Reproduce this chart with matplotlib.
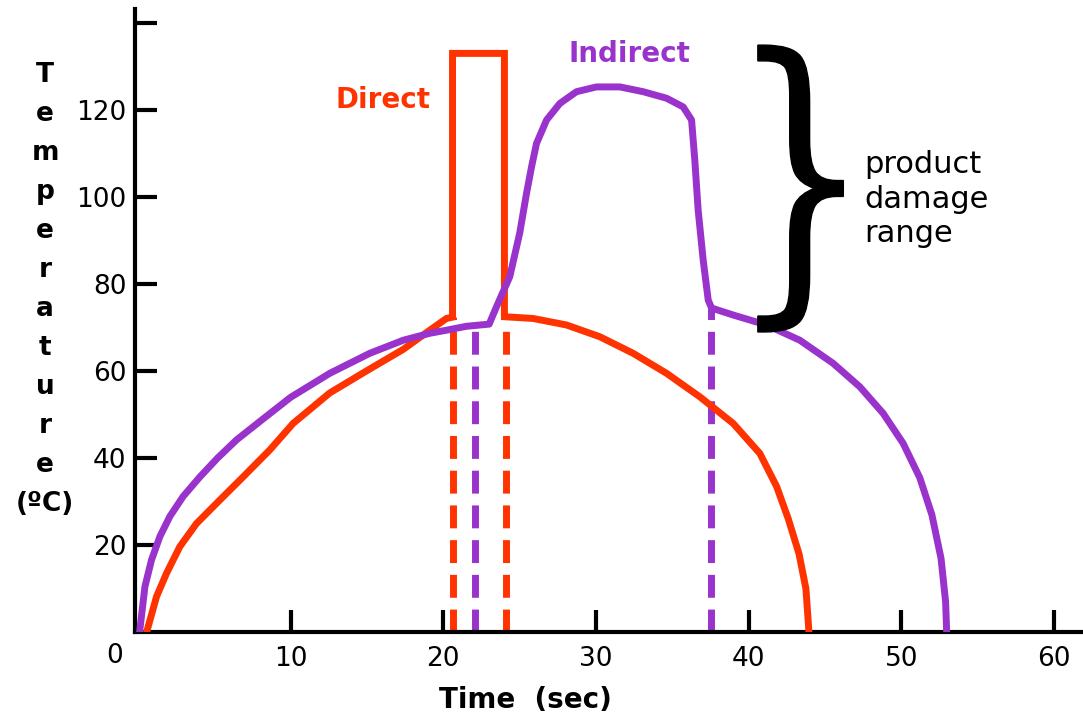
import matplotlib
matplotlib.use("Agg")
import matplotlib.pyplot as plt
from matplotlib.textpath import TextPath
from matplotlib.patches import PathPatch
from matplotlib.font_manager import FontProperties
from matplotlib.transforms import Affine2D

# data
direct_t = [0.56, 1.21, 1.87, 2.74, 3.83, 5.36, 6.88, 8.63, 10.16, 12.56, 15.18, 17.37,
            19.11, 20.2, 20.6,
            20.6, 24.0, 24.0,
            25.88, 28.07, 30.25, 32.43, 34.62, 36.8, 38.98, 40.73, 41.83, 42.6,
            43.3, 43.75, 43.95]
direct_T = [0, 8.2, 13.6, 19.7, 25.0, 30.4, 35.7, 41.9, 48.0, 55.0, 60.5, 65.0,
            69.4, 72.1, 72.4,
            133, 133, 72.5,
            72.1, 70.6, 67.9, 64.1, 59.5, 54.1, 48.0, 41.1, 33.5, 26.0,
            18.0, 10.0, 0]

indirect_t = [0.1, 0.45, 0.88, 1.43, 2.08, 2.95, 4.05, 5.2, 6.45, 8.0, 10.0, 12.56,
              15.18, 17.37, 19.11, 20.2, 21.5, 23.0, 23.48, 24.35, 25.0, 25.45, 25.78,
              26.1, 26.76, 27.63, 28.72, 30.03, 31.56, 33.09, 34.62, 35.71, 36.26,
              36.47, 36.69, 37.02, 37.35, 37.57, 38.98, 41.17, 43.35, 45.53, 47.28,
              48.81, 50.12, 51.21, 52.0, 52.6, 52.9, 52.97]
indirect_T = [0, 10.5, 16.6, 22.0, 26.6, 31.2, 35.7, 40.0, 44.2, 48.5, 54.0, 59.5,
              64.1, 67.1, 68.7, 69.4, 70.3, 70.8, 74.8, 81.7, 91.7, 100.9, 107.0,
              112.3, 117.7, 121.5, 124.2, 125.3, 125.3, 124.2, 122.7, 120.7, 117.7,
              108.5, 97.0, 85.5, 76.3, 74.5, 72.9, 70.6, 67.1, 61.8, 56.4,
              50.3, 43.4, 35.5, 27.0, 17.0, 7.0, 0]

# dashed drop lines (x, top)
direct_marks = [(20.6, 72.4), (24.1, 72.5)]
indirect_marks = [(22.1, 70.5), (37.5, 74.5)]

xticks = [10, 20, 30, 40, 50, 60]
yticks = [20, 40, 60, 80, 100, 120, 140]
ytick_labels = ["20", "40", "60", "80", "100", "120", ""]

red = "#FF3300"
purple = "#9933CC"

fig = plt.figure(figsize=(10.83, 7.15), dpi=100)
ax = fig.add_axes([135 / 1083, 82.7 / 715, 1 - 135 / 1083, 623.3 / 715])

ax.plot(direct_t, direct_T, color=red, lw=5, solid_joinstyle="miter", zorder=3)
ax.plot(indirect_t, indirect_T, color=purple, lw=5, solid_joinstyle="round", zorder=3)
for x, top in direct_marks:
    ax.plot([x, x], [0, top], color=red, lw=5, dashes=(3.3, 1.7), zorder=2)
for x, top in indirect_marks:
    ax.plot([x, x], [0, top], color=purple, lw=5, dashes=(3.3, 1.7), zorder=2)

ax.set_xlim(-0.2, 61.9)
ax.set_ylim(0, 143.2)
for s in ["top", "right"]:
    ax.spines[s].set_visible(False)
for s in ["left", "bottom"]:
    ax.spines[s].set_linewidth(3)
ax.set_xticks(xticks)
ax.set_yticks(yticks)
ax.set_yticklabels(ytick_labels)
ax.tick_params(direction="in", length=16, width=3, labelsize=19)
ax.tick_params(axis="x", pad=10)
ax.tick_params(axis="y", pad=6)
ax.text(-1.0, -2.5, "0", fontsize=19, ha="right", va="top")

ax.text(16.05, 122.3, "Direct", color=red, fontsize=20, fontweight="bold",
        ha="center", va="center")
ax.text(32.2, 132.9, "Indirect", color=purple, fontsize=20, fontweight="bold",
        ha="center", va="center")

# curly brace
tp = TextPath((0, 0), "}", size=1, prop=FontProperties(family="DejaVu Serif"))
ext = tp.get_extents()
bx0, bx1, by0, by1 = 40.6, 46.2, 69.0, 134.9
tr = (Affine2D().translate(-ext.x0, -ext.y0)
      .scale((bx1 - bx0) / ext.width, (by1 - by0) / ext.height)
      .translate(bx0, by0) + ax.transData)
ax.add_patch(PathPatch(tp, transform=tr, color="black", clip_on=False, zorder=5))
ax.text(47.6, 99.5, "product\ndamage\nrange", fontsize=22, ha="left", va="center",
        linespacing=1.25)

fig.text(525 / 1083, 1 - 700 / 715, "Time  (sec)", fontsize=20, fontweight="bold",
         ha="center", va="center")
for i, ch in enumerate(list("Temperature") + ["(ºC)"]):
    fig.text(45 / 1083, 1 - (75 + 39 * i) / 715, ch, fontsize=19, fontweight="bold",
             ha="center", va="center")

fig.savefig("out.png", dpi=100)
